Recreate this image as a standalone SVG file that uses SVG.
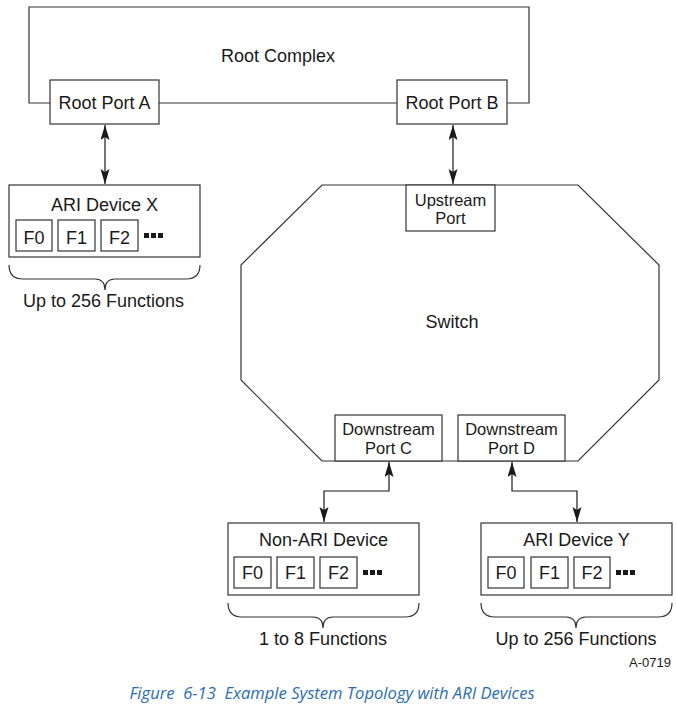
<svg xmlns="http://www.w3.org/2000/svg" width="677" height="707" viewBox="0 0 677 707">
<defs>
<marker id="ah" markerUnits="userSpaceOnUse" markerWidth="16" markerHeight="10" refX="15" refY="4.5" orient="auto-start-reverse">
<path d="M0,0 L15,4.5 L0,9 L3,4.5 z" fill="#1a1a1a"/>
</marker>
<style>
.ln{fill:none;stroke:#333;stroke-width:1.2}
.bx{fill:#fff;stroke:#333;stroke-width:1.2}
.t{font-family:"Liberation Sans",Arial,sans-serif;font-size:18px;fill:#1a1a1a;text-anchor:middle}
.t2{font-family:"Liberation Sans",Arial,sans-serif;font-size:16.5px;fill:#1a1a1a;text-anchor:middle}
.dot{fill:#1a1a1a}
.ar{fill:none;stroke:#1a1a1a;stroke-width:1.2;marker-start:url(#ah);marker-end:url(#ah)}
</style>
</defs>
<rect width="677" height="707" fill="#fff"/>

<g id="root-complex">
<path class="ln" d="M50,103 H29 V7 H529 V103 H507 M159,103 H397"/>
<text class="t" x="278" y="62">Root Complex</text>
</g>

<g id="root-port-a">
<rect class="bx" x="50" y="80" width="109" height="44"/>
<text class="t" x="104.5" y="109">Root Port A</text>
</g>

<g id="root-port-b">
<rect class="bx" x="397" y="80" width="110" height="44"/>
<text class="t" x="452" y="109">Root Port B</text>
</g>

<g id="ari-device-x">
<rect class="bx" x="9" y="185" width="191" height="72"/>
<text class="t" x="104.5" y="211">ARI Device X</text>
<rect class="bx" x="16" y="220" width="36" height="31"/>
<text class="t" x="34" y="244">F0</text>
<rect class="bx" x="58" y="220" width="37" height="31"/>
<text class="t" x="76.5" y="244">F1</text>
<rect class="bx" x="101" y="220" width="37" height="31"/>
<text class="t" x="119.5" y="244">F2</text>
<rect class="dot" x="144" y="233" width="5" height="5"/>
<rect class="dot" x="151" y="233" width="5" height="5"/>
<rect class="dot" x="158" y="233" width="5" height="5"/>
<path class="ln" d="M9,265 Q9,279 23,279 H95 Q105,279 105,290 Q105,279 115,279 H186 Q200,279 200,265"/>
<text class="t" x="103.5" y="307">Up to 256 Functions</text>
</g>

<g id="switch">
<path class="ln" d="M322,185 H578 L659,265 V380 L578,461 H322 L241,380 V265 Z"/>
<text class="t" x="452" y="328">Switch</text>
</g>

<g id="upstream-port">
<rect class="bx" x="406" y="185" width="89" height="46"/>
<text class="t2" x="450.5" y="205.5">Upstream</text>
<text class="t2" x="450.5" y="224">Port</text>
</g>

<g id="downstream-port-c">
<rect class="bx" x="335" y="415" width="107" height="46"/>
<text class="t2" x="388.5" y="435">Downstream</text>
<text class="t2" x="388.5" y="453.5">Port C</text>
</g>

<g id="downstream-port-d">
<rect class="bx" x="458" y="415" width="107" height="46"/>
<text class="t2" x="511.5" y="435">Downstream</text>
<text class="t2" x="511.5" y="453.5">Port D</text>
</g>

<g id="non-ari-device">
<rect class="bx" x="228" y="523" width="191" height="72"/>
<text class="t" x="323.5" y="546">Non-ARI Device</text>
<rect class="bx" x="234" y="557" width="37" height="31"/>
<text class="t" x="252.5" y="579">F0</text>
<rect class="bx" x="277" y="557" width="37" height="31"/>
<text class="t" x="295.5" y="579">F1</text>
<rect class="bx" x="320" y="557" width="37" height="31"/>
<text class="t" x="338.5" y="579">F2</text>
<rect class="dot" x="363" y="570" width="5" height="5"/>
<rect class="dot" x="370" y="570" width="5" height="5"/>
<rect class="dot" x="377" y="570" width="5" height="5"/>
<path class="ln" d="M228,603 Q228,617 242,617 H313 Q323,617 323,628 Q323,617 333,617 H405 Q419,617 419,603"/>
<text class="t" x="323" y="645">1 to 8 Functions</text>
</g>

<g id="ari-device-y">
<rect class="bx" x="481" y="523" width="191" height="72"/>
<text class="t" x="576.5" y="546">ARI Device Y</text>
<rect class="bx" x="488" y="557" width="36" height="31"/>
<text class="t" x="506" y="579">F0</text>
<rect class="bx" x="531" y="557" width="37" height="31"/>
<text class="t" x="549.5" y="579">F1</text>
<rect class="bx" x="574" y="557" width="36" height="31"/>
<text class="t" x="592" y="579">F2</text>
<rect class="dot" x="616" y="570" width="5" height="5"/>
<rect class="dot" x="623" y="570" width="5" height="5"/>
<rect class="dot" x="630" y="570" width="5" height="5"/>
<path class="ln" d="M481,603 Q481,617 495,617 H566 Q576,617 576,628 Q576,617 586,617 H658 Q672,617 672,603"/>
<text class="t" x="576" y="645">Up to 256 Functions</text>
</g>

<g id="connectors">
<path class="ar" d="M105,125 V184"/>
<path class="ar" d="M453,125 V184"/>
<path class="ar" d="M389,462 V491 H324 V522"/>
<path class="ar" d="M512,462 V491 H577 V522"/>
</g>

<text x="671" y="667" font-family="Liberation Sans,Arial,sans-serif" font-size="13" fill="#1a1a1a" text-anchor="end">A-0719</text>
<text x="332" y="699" font-family="'Open Sans','Noto Sans',sans-serif" font-style="italic" font-size="16.6" fill="#2a6db3" text-anchor="middle" xml:space="preserve">Figure  6-13  Example System Topology with ARI Devices</text>
</svg>
